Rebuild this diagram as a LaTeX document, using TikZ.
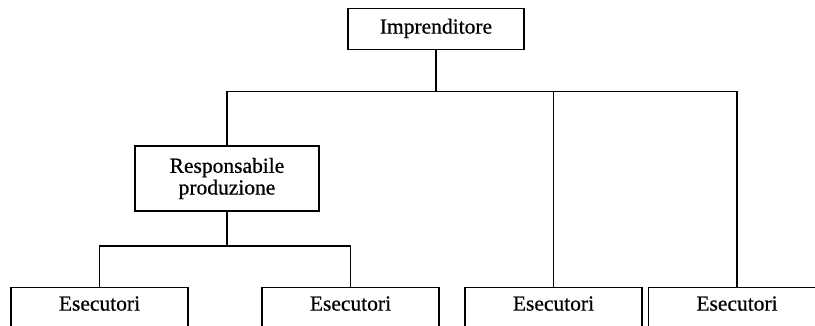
\documentclass[tikz,border=0pt]{standalone}
\usepackage{fontspec}
\setmainfont[FakeBold=0.6]{Liberation Serif}
\begin{document}
\begin{tikzpicture}[x=1pt,y=-1pt,
  orgbox/.style={draw=black,line width=1.2pt,fill=white,inner xsep=0pt,
    font=\fontsize{21.5}{21.7}\selectfont},
  topbox/.style={orgbox,minimum width=176pt,inner ysep=5pt,
    text height=20pt,text depth=11pt,anchor=north},
  midbox/.style={orgbox,minimum width=184pt,minimum height=65pt,align=center},
  leafbox/.style={orgbox,minimum width=177pt,inner ysep=5pt,
    text height=18pt,text depth=40pt,anchor=north},
  link/.style={line width=1.2pt,black},
  stem/.style={line width=2.2pt,black}]
  \useasboundingbox (0,0) rectangle (815,326);
  \clip (0,0) rectangle (815,326);

  % hierarchy boxes
  \node[topbox] (boss) at (436,8) {Imprenditore};
  \node[midbox] (prod) at (227,178.5) {Responsabile\\produzione};
  \node[leafbox] (e1) at (99.5,287) {Esecutori};
  \node[leafbox] (e2) at (350.5,287) {Esecutori};
  \node[leafbox] (e3) at (553.5,287) {Esecutori};
  \node[leafbox] (e4) at (737,287) {Esecutori};

  % junction points of the two horizontal buses
  \coordinate (busA) at (436,91.5);
  \coordinate (busB) at (227,246);

  % connectors from the owner
  \draw[stem] (boss.south) -- (busA);
  \draw[link] (prod.north) |- (busA) -| (e4.north);
  \draw[link] (e3.north) -- (e3.north |- busA);

  % connectors from production manager
  \draw[link] (prod.south) -- (busB);
  \draw[link] (e1.north) |- (busB) -| (e2.north);
\end{tikzpicture}
\end{document}
